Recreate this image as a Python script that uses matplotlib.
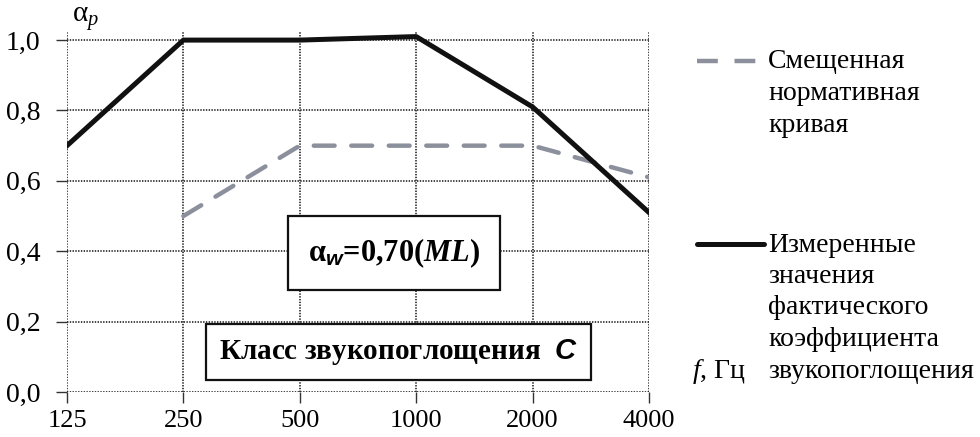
import matplotlib
matplotlib.use("Agg")
import matplotlib.pyplot as plt
from matplotlib.lines import Line2D

plt.rcParams['font.family'] = ['Liberation Serif', 'DejaVu Serif']
plt.rcParams['mathtext.fontset'] = 'custom'
plt.rcParams['mathtext.rm'] = 'Liberation Serif'
plt.rcParams['mathtext.it'] = 'Liberation Serif:italic'
plt.rcParams['mathtext.bf'] = 'Liberation Serif:bold'
plt.rcParams['mathtext.bfit'] = 'Liberation Serif:italic:bold'
plt.rcParams['mathtext.sf'] = 'Liberation Sans:italic:bold'
plt.rcParams['lines.scale_dashes'] = False

# Data
freqs = ['125', '250', '500', '1000', '2000', '4000']
measured = [0.70, 1.00, 1.00, 1.01, 0.81, 0.51]
ref_freqs = ['250', '500', '1000', '2000', '4000']
shifted_ref = [0.50, 0.70, 0.70, 0.70, 0.61]
yticks = [0.0, 0.2, 0.4, 0.6, 0.8, 1.0]
ytick_labels = ['0,0', '0,2', '0,4', '0,6', '0,8', '1,0']

fig = plt.figure(figsize=(9.8, 4.37), dpi=100)
ax = fig.add_axes([67/980, 1-392/437, (649-67)/980, (392-32)/437])

xpos = list(range(len(freqs)))
ref_x = [freqs.index(f) for f in ref_freqs]

ax.plot(ref_x, shifted_ref, color='#8c909c', lw=3.2, dashes=(15, 12),
        solid_capstyle='round', dash_capstyle='round', zorder=3)
ax.plot(xpos, measured, color='#111111', lw=3.6, solid_joinstyle='round', zorder=4)

ax.set_xlim(0, len(freqs)-1)
ax.set_ylim(0, 1.023)
ax.set_xticks(xpos)
ax.set_xticklabels(freqs)
ax.set_yticks(yticks)
ax.set_yticklabels(ytick_labels)
ax.tick_params(axis='both', labelsize=20, length=8, width=1, color='#333333', direction='out')
ax.tick_params(axis='x', pad=5, labelsize=19)
ax.tick_params(axis='y', pad=11)
for s in ax.spines.values():
    s.set_visible(False)
ax.grid(True, color='#222222', lw=1.2, linestyle=(0, (1, 1)))
ax.set_axisbelow(True)

# axis labels
fig.text(72/980, 1-19/437, r'α$_{p}$', fontsize=21, ha='left', va='center')
fig.text(692/980, 1-372/437, r'$f$, Гц', fontsize=20, ha='left', va='center')

# annotation boxes
fig.text((286+502)/2/980, 1-253/437, r'α$_{\mathsf{w}}$=0,70($\mathbfit{ML}$)',
         fontsize=22, fontweight='bold', ha='center', va='center',
         bbox=dict(boxstyle='square,pad=0.65', fc='white', ec='#111111', lw=1.6))
fig.text((212+585)/2/980, 1-352/437, r'Класс звукопоглощения  $\mathsf{C}$',
         fontsize=21, fontweight='bold', ha='center', va='center',
         bbox=dict(boxstyle='square,pad=0.45', fc='white', ec='#111111', lw=1.6))

# legend
fig.add_artist(Line2D([697/980, 757/980], [1-61/437, 1-61/437], color='#8c909c', lw=3.2,
                      dashes=(15, 12), transform=fig.transFigure))
fig.add_artist(Line2D([697/980, 764/980], [1-244/437, 1-244/437], color='#111111', lw=3.6,
                      solid_capstyle='round', transform=fig.transFigure))
leg1 = ['Смещенная', 'нормативная', 'кривая']
leg2 = ['Измеренные', 'значения', 'фактического', 'коэффициента', 'звукопоглощения']
for i, t in enumerate(leg1):
    fig.text(768/980, 1-(62+31.5*i)/437, t, fontsize=20, ha='left', va='center')
for i, t in enumerate(leg2):
    fig.text(768/980, 1-(245+31.5*i)/437, t, fontsize=20, ha='left', va='center')

fig.savefig('out.png', dpi=100)
